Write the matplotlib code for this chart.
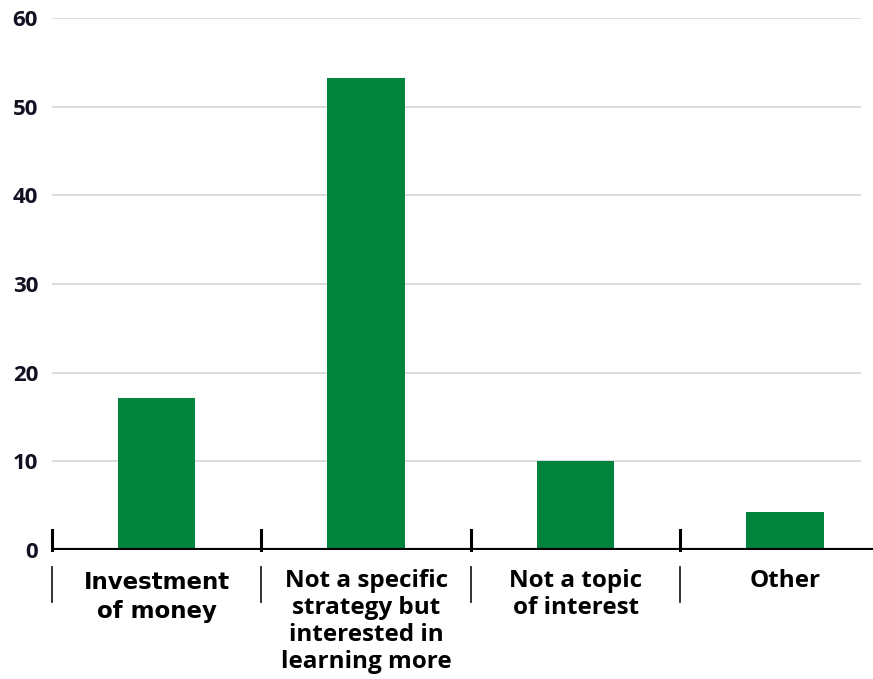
import matplotlib.pyplot as plt
from matplotlib.transforms import blended_transform_factory

categories = ["Investment\nof money",
              "Not a specific\nstrategy but\ninterested in\nlearning more",
              "Not a topic\nof interest",
              "Other"]
values = [17.1, 53.2, 10.0, 4.3]
yticks = [0, 10, 20, 30, 40, 50, 60]

fig = plt.figure(figsize=(8.73, 6.79), dpi=100)
ax = fig.add_axes([52 / 873, 129 / 679, 821 / 873, 532 / 679])

x = list(range(len(categories)))
ax.bar(x, values, width=0.37, color="#00843d", zorder=3)

ax.set_xlim(-0.5, 3.42)
ax.set_ylim(0, 60)

# light grid
for t in yticks[1:]:
    ax.axhline(t, xmin=0, xmax=808 / 821, color="#d9d9d9", lw=1.3, zorder=1)
ax.axhline(0, color="black", lw=3, zorder=4, solid_capstyle="butt")

for s in ax.spines.values():
    s.set_visible(False)
ax.set_xticks([])
ax.set_yticks(yticks)
ax.set_yticklabels([str(t) for t in yticks], fontsize=16, fontweight="bold",
                   color="#111122", family="Open Sans")
ax.tick_params(axis="y", length=0, pad=10)

# separators between categories
trans = blended_transform_factory(ax.transData, ax.transAxes)
for i in range(len(categories)):
    xs = i - 0.5
    ax.plot([xs, xs], [0, 0.0376], color="black", lw=2.2, transform=trans,
            clip_on=False, zorder=5)
    ax.plot([xs, xs], [-0.032, -0.098], color="#222222", lw=1.3, transform=trans,
            clip_on=False, zorder=5)

for i, lab in enumerate(categories):
    if i == 0:
        ax.text(i, -0.040, lab, transform=trans, ha="center", va="top",
                fontsize=16.5, fontweight="heavy", family="DejaVu Sans",
                color="black", linespacing=1.3)
    else:
        ax.text(i, -0.036, lab, transform=trans, ha="center", va="top",
                fontsize=17.5, fontweight="bold", family="Open Sans",
                color="black", linespacing=1.17)

fig.savefig("out.png", dpi=100)
